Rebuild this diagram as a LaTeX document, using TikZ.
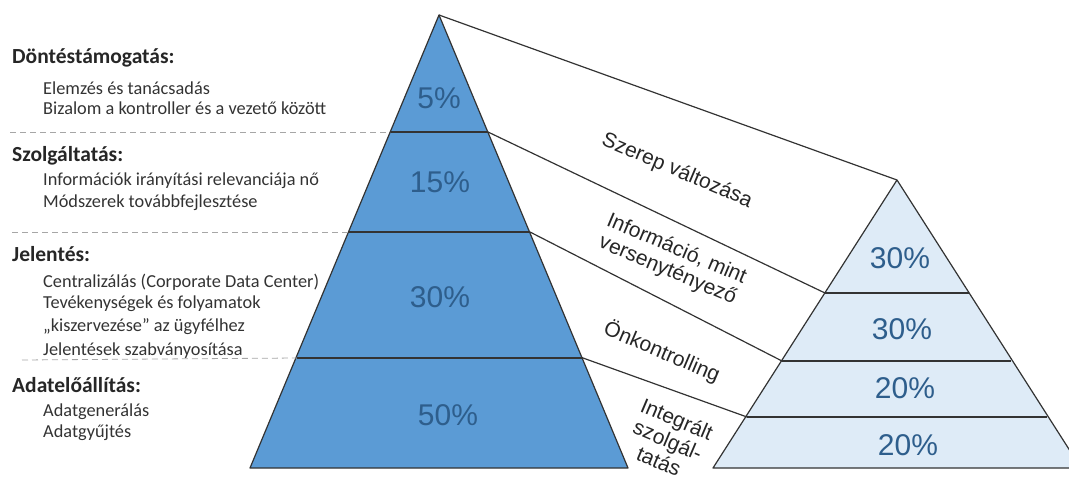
\documentclass[tikz,border=0pt]{standalone}
\usepackage{fontspec}
\setmainfont{Carlito}
\newfontfamily\arialfont{Liberation Sans}
\usetikzlibrary{positioning}
\definecolor{pyrblue}{HTML}{5B9BD5}
\definecolor{pyrlight}{HTML}{DEEBF7}
\definecolor{pctblue}{HTML}{2E5E8C}
\definecolor{edgegray}{HTML}{333333}
\tikzset{x=1pt, y=-1pt, % pixel units, y downwards
head/.style={ % Level headings on the left
anchor=base west, inner sep=0pt, text=black!85,
font=\fontsize{21.5}{25}\selectfont\bfseries},
item/.style={ % Items under the headings
anchor=base west, inner sep=0pt, text=black!80,
font=\fontsize{18.3}{21}\selectfont},
pct/.style={font=\arialfont\fontsize{30}{36}\selectfont, text=pctblue},
role/.style={font=\arialfont\fontsize{21}{23}\selectfont,
align=center, rotate=-23, text=black!85},
divider/.style={dash pattern=on 6pt off 4pt, gray!70, thick},
outline/.style={edgegray, line width=1.2pt, line join=round}}

\begin{document}
\begin{tikzpicture}

    \useasboundingbox (0,0) rectangle (1069,479);
    \clip (0,0) rectangle (1069,479);

    % left pyramid
    \coordinate (L0) at (439,15);
    \coordinate (L1l) at (390,132); \coordinate (L1r) at (488,132);
    \coordinate (L2l) at (348,232); \coordinate (L2r) at (530,232);
    \coordinate (L3l) at (297,358); \coordinate (L3r) at (583,358);
    \coordinate (L4l) at (250,468); \coordinate (L4r) at (628,468);

    % right pyramid
    \coordinate (R0) at (897,180);
    \coordinate (R1l) at (825,293); \coordinate (R1r) at (969,293);
    \coordinate (R2l) at (782,361); \coordinate (R2r) at (1011,361);
    \coordinate (R3l) at (747,417); \coordinate (R3r) at (1047,417);
    \coordinate (R4l) at (713,468); \coordinate (R4r) at (1081,468);

    \fill[pyrblue] (L0) -- (L4r) -- (L4l) -- cycle;
    \fill[pyrlight] (R0) -- (R4r) -- (R4l) -- cycle;

    \draw[outline] (L0) -- (L4r) -- (L4l) -- cycle;
    \draw[outline] (L1l) -- (L1r);
    \draw[outline] (L2l) -- (L2r);
    \draw[outline] (L3l) -- (L3r);

    \draw[outline] (R0) -- (R4r) -- (R4l) -- cycle;
    \draw[outline] (R1l) -- (R1r);
    \draw[outline] (R2l) -- (R2r);
    \draw[outline] (R3l) -- (R3r);

    % connectors between the levels
    \draw[outline] (L0) -- (R0);
    \draw[outline] (L1r) -- (R1l);
    \draw[outline] (L2r) -- (R2l);
    \draw[outline] (L3r) -- (R3l);

    % dashed dividers on the left
    \coordinate (D1) at (10,132);
    \coordinate (D2) at (12,232);
    \coordinate (D3) at (22,360);
    \draw[divider] (D1) -- (L1l);
    \draw[divider] (D2) -- (L2l);
    \draw[divider] (D3) -- (L3l);

    % percentages
    \node[pct] (p5) at (439,98) {5\%};
    \node[pct] (p15) at (440,182) {15\%};
    \node[pct] (p30) at (440,297) {30\%};
    \node[pct] (p50) at (448,415) {50\%};
    \node[pct] (q30a) at (900,258) {30\%};
    \node[pct] (q30b) at (902,329) {30\%};
    \node[pct] (q20a) at (905,388) {20\%};
    \node[pct] (q20b) at (908,445) {20\%};

    % roles between the pyramids
    \node[role] (szerep) at (677,171) {Szerep változása};
    \node[role] (info) at (672,260) {Információ, mint\\versenytényező};
    \node[role] (onk) at (662,352) {Önkontrolling};
    \node[role] (integr) at (668,440) {Integrált\\szolgál-\\tatás};

    % levels on the left
    \node[head] (dont) at (12,63) {Döntéstámogatás:};
    \node[item] (dont1) at (43,94) {Elemzés és tanácsadás};
    \node[item] (dont2) at (43,114) {Bizalom a kontroller és a vezető között};

    \node[head] (szolg) at (12,161) {Szolgáltatás:};
    \node[item] (szolg1) at (43,185) {Információk irányítási relevanciája nő};
    \node[item] (szolg2) at (43,207) {Módszerek továbbfejlesztése};

    \node[head] (jel) at (12,261) {Jelentés:};
    \node[item] (jel1) at (43,287) {Centralizálás (Corporate Data Center)};
    \node[item] (jel2) at (43,308) {Tevékenységek és folyamatok};
    \node[item] (jel3) at (43,331) {„kiszervezése” az ügyfélhez};
    \node[item] (jel4) at (43,355) {Jelentések szabványosítása};

    \node[head] (adat) at (12,392) {Adatelőállítás:};
    \node[item] (adat1) at (43,416) {Adatgenerálás};
    \node[item] (adat2) at (43,437) {Adatgyűjtés};

\end{tikzpicture}
\end{document}
